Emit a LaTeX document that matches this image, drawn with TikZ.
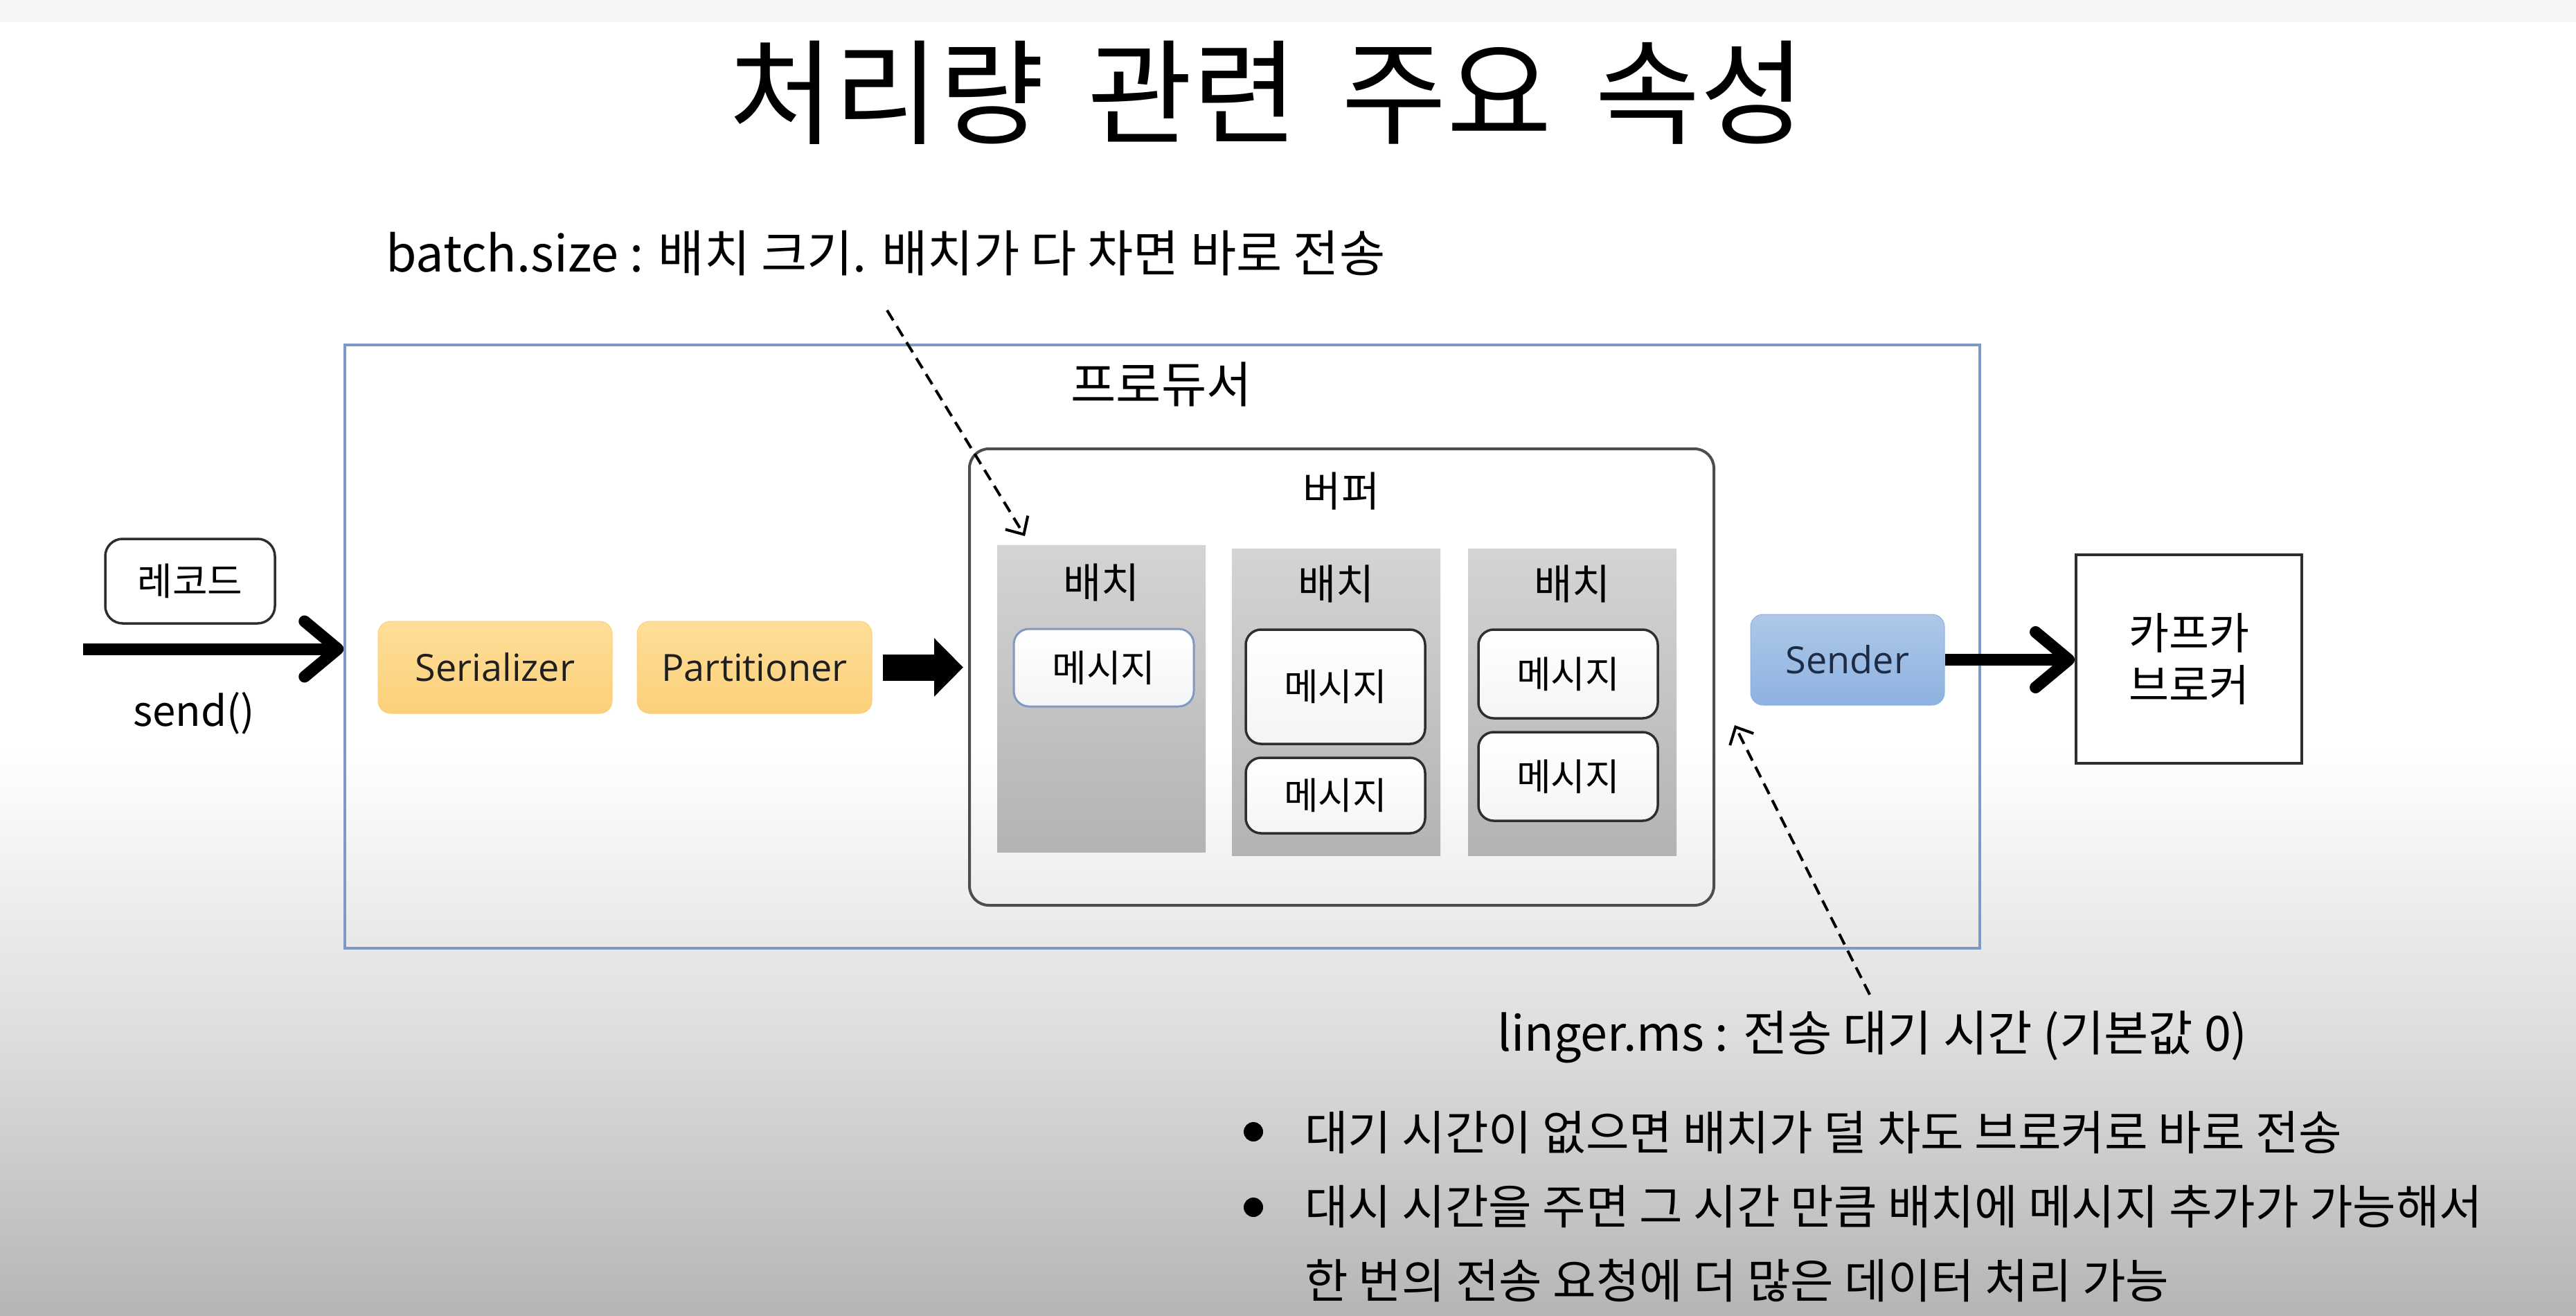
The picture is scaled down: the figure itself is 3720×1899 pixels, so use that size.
\documentclass[tikz,border=0pt]{standalone}
\usepackage{fontspec}
\setmainfont{Noto Sans CJK KR}
\newfontfamily\ui{Open Sans}
\usetikzlibrary{arrows.meta,calc}
\definecolor{prodblue}{HTML}{7F99C7}
\definecolor{serTop}{HTML}{FEDE98}
\definecolor{serBot}{HTML}{FBD07A}
\definecolor{sndTop}{HTML}{AEC8E9}
\definecolor{sndBot}{HTML}{8DB2E0}
\definecolor{batTop}{HTML}{D4D4D4}
\definecolor{batBot}{HTML}{B3B3B3}
\definecolor{bgBot}{HTML}{B5B5B5}
\definecolor{bgMid}{HTML}{DDDDDD}
\definecolor{edge}{HTML}{2E2E2E}
\definecolor{navy}{HTML}{1E2B44}
\begin{document}
\begin{tikzpicture}[x=1pt,y=-1pt,
  box/.style={rectangle, inner sep=0pt, anchor=center},
  lbl/.style={inner sep=0pt, anchor=center},
  hand/.style={inner sep=0pt, anchor=base west, font=\fontsize{70}{80}\selectfont},
  bul/.style={inner sep=0pt, anchor=base west, font=\fontsize{68}{76}\selectfont},
  procbox/.style={box, rounded corners=18pt, top color=serTop, bottom color=serBot, draw=serBot, line width=1pt, font=\ui\fontsize{54}{60}\selectfont, text=black!88},
  sendbox/.style={box, rounded corners=18pt, top color=sndTop, bottom color=sndBot, draw=sndBot, line width=1pt, font=\ui\fontsize{54}{60}\selectfont, text=navy},
  batchbox/.style={box, top color=batTop, bottom color=batBot, minimum width=301pt, minimum height=443pt},
  msgbox/.style={box, rounded corners=22pt, top color=white, bottom color=black!4, draw=edge, line width=3.5pt, minimum width=259pt, font=\fontsize{54}{60}\selectfont},
  thickarrow/.style={line width=17pt, -{Straight Barb[length=48pt,width=80pt,line cap=round,line join=round]}},
  blockarrow/.style={line width=38pt, -{Triangle[length=42pt,width=82pt]}},
  notearrow/.style={line width=4pt, dash pattern=on 17pt off 10pt, -{Straight Barb[length=20pt,width=38pt]}},
  dot/.style={circle, fill=black, inner sep=0pt, minimum size=28pt}
]
\useasboundingbox (0,0) rectangle (3720,1899);
% background
\fill[white] (0,0) rectangle (3720,1899);
\fill[black!4] (0,0) rectangle (3720,32);
\shade[top color=white, bottom color=bgMid] (0,1080) rectangle (3720,1500);
\shade[top color=bgMid, bottom color=bgBot] (0,1499) rectangle (3720,1899);

% title
\node[lbl, font=\fontsize{165}{180}\selectfont] (title) at (1830,134) {처리량\hspace{0.38em}관련\hspace{0.38em}주요\hspace{0.38em}속성};

% producer
\node[box, draw=prodblue, line width=3.5pt, minimum width=2361pt, minimum height=871pt] (prod) at (1678.5,933.5) {};
\node[lbl, font=\fontsize{71}{80}\selectfont] (prodlbl) at (1677,555) {프로듀서};

% buffer
\node[box, draw=edge!85, line width=4pt, rounded corners=28pt, minimum width=1075pt, minimum height=659pt] (buffer) at (1937.5,977.5) {};
\node[lbl, font=\fontsize{60}{70}\selectfont] (buflbl) at (1937,709) {버퍼};

% batches
\node[batchbox] (b1) at (1590.5,1009) {};
\node[batchbox] (b2) at (1929.5,1013.5) {};
\node[batchbox] (b3) at (2270.5,1013.5) {};
\node[lbl, font=\fontsize{60}{70}\selectfont] (b1l) at (1590.5,841) {배치};
\node[lbl, font=\fontsize{60}{70}\selectfont] (b2l) at (1929.5,843) {배치};
\node[lbl, font=\fontsize{60}{70}\selectfont] (b3l) at (2270.5,843) {배치};

% messages
\node[msgbox, draw=prodblue, line width=3pt, minimum width=260pt, minimum height=112pt] (m11) at (1594,964) {메시지};
\node[msgbox, minimum height=165pt] (m21) at (1928.5,991.5) {메시지};
\node[msgbox, minimum height=109pt] (m22) at (1928.5,1148.5) {메시지};
\node[msgbox, minimum height=128pt] (m31) at (2264.5,973) {메시지};
\node[msgbox, minimum height=128pt] (m32) at (2264.5,1121) {메시지};

% record and send
\node[box, draw=edge, line width=3.5pt, rounded corners=25pt, fill=white, minimum width=245pt, minimum height=122pt, font=\fontsize{55}{60}\selectfont] (rec) at (274.5,839) {레코드};
\coordinate (sendstart) at (120,937);
\draw[thickarrow] (sendstart) -- (sendstart -| prod.west);
\node[lbl, font=\fontsize{60}{64}\selectfont] (sendlbl) at (280,1030) {send()};

% serializer, partitioner
\node[procbox, minimum width=338pt, minimum height=133pt] (ser) at (715,963.5) {Serializer};
\node[procbox, minimum width=339pt, minimum height=133pt] (part) at (1089.5,963.5) {Partitioner};
\draw[blockarrow] ([xshift=15pt]part.east) -- ([xshift=-7pt]part.east -| buffer.west);

% sender and kafka
\node[sendbox, minimum width=280pt, minimum height=131pt] (sender) at (2668,952.5) {Sender};
\node[box, draw=edge, line width=4pt, fill=white, minimum width=326pt, minimum height=301pt, align=center, font=\fontsize{63}{75}\selectfont] (kafka) at (3161,951.5) {카프카\\브로커};
\draw[thickarrow] (sender.east) -- (sender.east -| kafka.west);

% batch.size note
\node[hand, font=\fontsize{72}{80}\selectfont] (bsnote) at (557,392) {batch.size : 배치 크기. 배치가 다 차면 바로 전송};
\coordinate (bstail) at (1281,448);
\coordinate (bshead) at (1480,774);
\draw[notearrow] (bstail) -- (bshead);

% linger.ms note
\node[hand] (lgnote) at (2162,1517) {linger.ms : 전송 대기 시간 (기본값 0)};
\coordinate (lgtail) at (2700,1436);
\coordinate (lghead) at (2505,1047);
\draw[notearrow] (lgtail) -- (lghead);

% bullets
\node[dot] (d1) at (1810,1634) {};
\node[dot] (d2) at (1810,1743) {};
\node[bul] (l1) at (1884,1660) {대기 시간이 없으면 배치가 덜 차도 브로커로 바로 전송};
\node[bul] (l2) at (1884,1767) {대시 시간을 주면 그 시간 만큼 배치에 메시지 추가가 가능해서};
\node[bul] (l3) at (1884,1874) {한 번의 전송 요청에 더 많은 데이터 처리 가능};
\end{tikzpicture}
\end{document}
